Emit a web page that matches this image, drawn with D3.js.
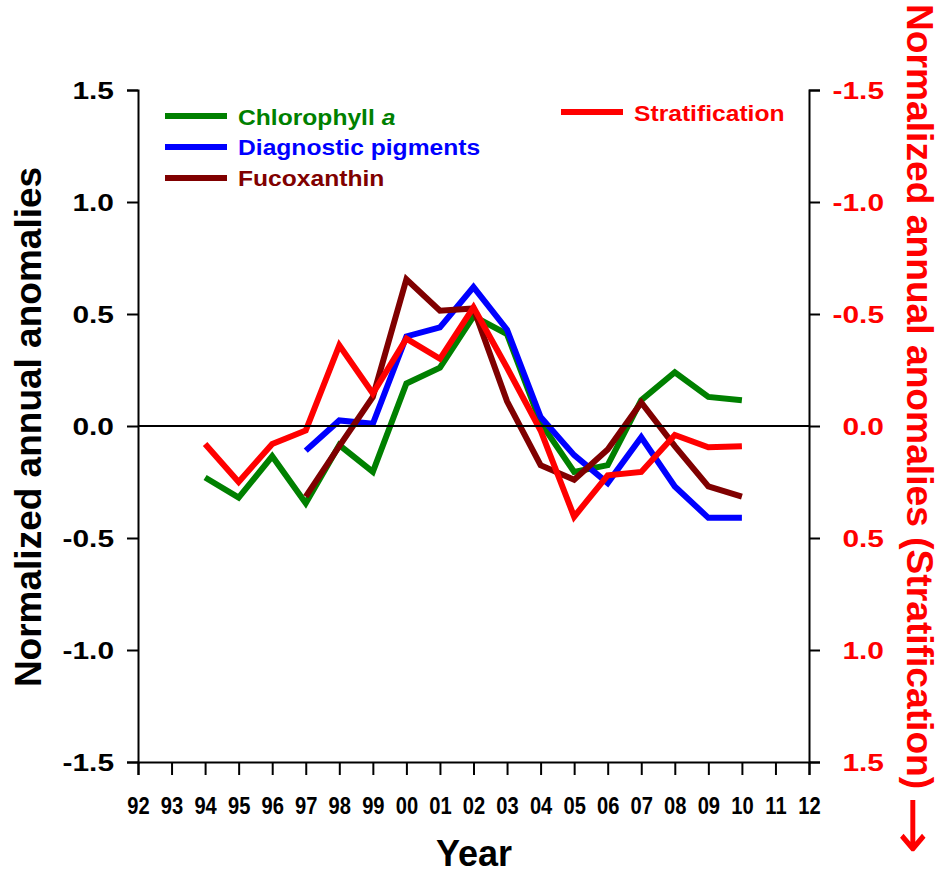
<!DOCTYPE html>
<html><head><meta charset="utf-8">
<script src="https://cdn.jsdelivr.net/npm/d3@7"></script>
<style>body{margin:0;background:#fff}text{font-family:"Liberation Sans",Arial,sans-serif;font-weight:bold}</style>
</head><body>
<script>
const yearLabels = ["92","93","94","95","96","97","98","99","00","01","02","03","04","05","06","07","08","09","10","11","12"];
const yearsA = ["94","95","96","97","98","99","00","01","02","03","04","05","06","07","08","09","10"];
const yearsB = ["97","98","99","00","01","02","03","04","05","06","07","08","09","10"];
const chlorophyll = [-0.23,-0.32,-0.135,-0.345,-0.085,-0.205,0.19,0.26,0.49,0.41,0.015,-0.205,-0.175,0.115,0.24,0.13,0.115];
const diagnostic = [-0.11,0.025,0.01,0.40,0.44,0.62,0.43,0.04,-0.13,-0.255,-0.05,-0.27,-0.41,-0.41];
const fucoxanthin = [-0.315,-0.09,0.13,0.655,0.515,0.525,0.11,-0.175,-0.24,-0.105,0.105,-0.09,-0.27,-0.315];
const stratification = [0.08,0.25,0.08,0.02,-0.36,-0.145,-0.39,-0.30,-0.53,-0.26,0.02,0.405,0.22,0.205,0.04,0.095,0.09];
const leftTicks = [-1.5,-1.0,-0.5,0.0,0.5,1.0,1.5];
const rightTicks = [-1.5,-1.0,-0.5,0.0,0.5,1.0,1.5];

const W=942,H=879;
const svg=d3.select("body").append("svg").attr("width",W).attr("height",H);
const x=d3.scalePoint().domain(yearLabels).range([138,809]);
const y=d3.scaleLinear().domain([-1.5,1.5]).range([762,90]);
const yR=d3.scaleLinear().domain([-1.5,1.5]).range([90,762]);
const fmt=v=>v.toFixed(1);

// left axis
const gL=svg.append("g").attr("transform","translate(138,0)")
  .call(d3.axisLeft(y).tickValues(leftTicks).tickFormat(fmt).tickSizeOuter(0).tickSize(11).tickPadding(0));
gL.select(".domain").attr("stroke","#000").attr("stroke-width",2);
gL.selectAll(".tick line").attr("stroke","#000").attr("stroke-width",2);
gL.selectAll(".tick text").attr("x",0).attr("dy",null).attr("font-size",23).attr("fill","#000")
  .attr("text-anchor","end").attr("transform","translate(-24,8) scale(1.3,1)");

// right axis
const gR=svg.append("g").attr("transform","translate(809,0)")
  .call(d3.axisRight(yR).tickValues(rightTicks).tickFormat(fmt).tickSizeOuter(0).tickSize(11).tickPadding(0));
gR.select(".domain").attr("stroke","#000").attr("stroke-width",2);
gR.selectAll(".tick line").attr("stroke","#000").attr("stroke-width",2);
gR.selectAll(".tick text").attr("x",0).attr("dy",null).attr("font-size",23).attr("fill","#ff0000")
  .attr("text-anchor","end").attr("transform","translate(75,8) scale(1.3,1)");

// bottom axis
const gB=svg.append("g").attr("transform","translate(0,762)")
  .call(d3.axisBottom(x).tickSizeOuter(0).tickSize(13).tickPadding(0));
gB.select(".domain").attr("stroke","#000").attr("stroke-width",2);
gB.selectAll(".tick line").attr("stroke","#000").attr("stroke-width",2);
gB.selectAll(".tick text").attr("y",0).attr("dy",null).attr("font-size",24).attr("fill","#000")
  .attr("text-anchor","middle").attr("transform","translate(0,52) scale(0.84,1)");

// axis titles
svg.append("text").attr("x",474).attr("y",866).attr("text-anchor","middle").attr("font-size",36).text("Year");
svg.append("text").attr("transform","translate(41,427) rotate(-90)").attr("text-anchor","middle").attr("font-size",37).text("Normalized annual anomalies");
svg.append("text").attr("transform","translate(907,4) rotate(90)").attr("text-anchor","start").attr("font-size",37.2).attr("fill","#ff0000")
  .text("Normalized annual anomalies (Stratification)");
svg.append("text").attr("transform","translate(913,851) scale(0.85,1)").attr("text-anchor","middle")
  .style("font-family","DejaVu Sans").style("font-weight","normal").attr("font-size",70).attr("fill","#ff0000").text("\u2193");

// lines
const line=(ys)=>d3.line().x(d=>x(d[0])).y(d=>ys(d[1]));
const series=[
  {yrs:yearsA,vals:chlorophyll,c:"#008000",s:y},
  {yrs:yearsB,vals:diagnostic,c:"#0000ff",s:y},
  {yrs:yearsB,vals:fucoxanthin,c:"#800000",s:y},
  {yrs:yearsA,vals:stratification,c:"#ff0000",s:yR}
];
series.forEach(o=>{
  svg.append("path").datum(o.yrs.map((k,i)=>[k,o.vals[i]]))
    .attr("d",line(o.s)).attr("fill","none").attr("stroke",o.c).attr("stroke-width",6).attr("stroke-linejoin","miter");
});
// zero line
svg.append("line").attr("x1",138).attr("x2",809).attr("y1",y(0)).attr("y2",y(0)).attr("stroke","#000").attr("stroke-width",2);

// legend
const leg=[
  {t:"Chlorophyll ",it:"a",c:"#008000",lx:165,ly:116,tx:238,ty:125},
  {t:"Diagnostic pigments",c:"#0000ff",lx:165,ly:147,tx:238,ty:155},
  {t:"Fucoxanthin",c:"#800000",lx:165,ly:178,tx:238,ty:186},
  {t:"Stratification",c:"#ff0000",lx:561,ly:112,tx:634,ty:121}
];
leg.forEach(o=>{
  svg.append("line").attr("x1",o.lx).attr("x2",o.lx+62).attr("y1",o.ly).attr("y2",o.ly).attr("stroke",o.c).attr("stroke-width",6);
  const t=svg.append("text").attr("transform",`translate(${o.tx},${o.ty}) scale(1.12,1)`).attr("font-size",22).attr("fill",o.c).text(o.t);
  if(o.it) t.append("tspan").attr("font-style","italic").text(o.it);
});
</script>
</body></html>
